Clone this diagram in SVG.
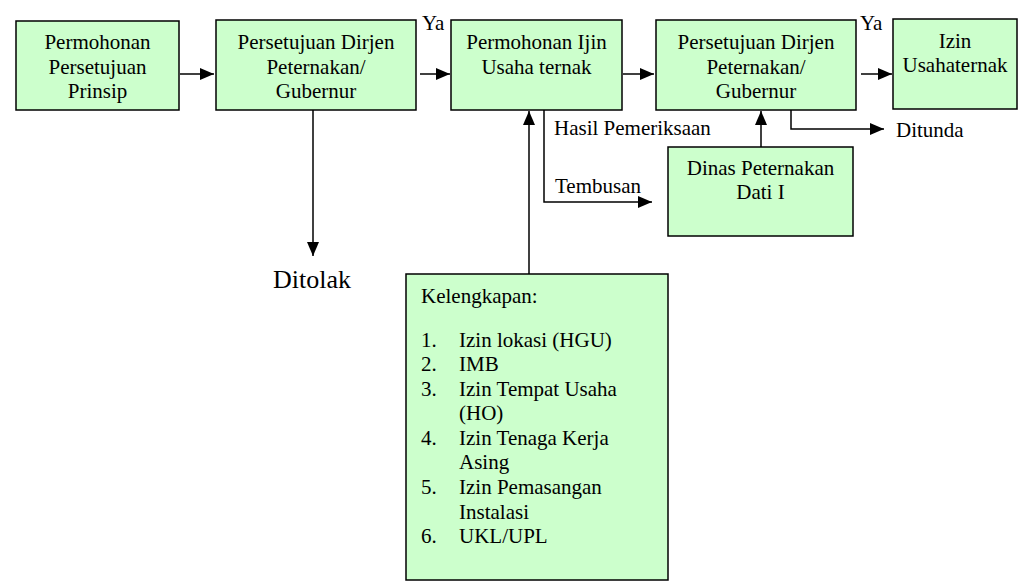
<svg xmlns="http://www.w3.org/2000/svg" width="1024" height="587" viewBox="0 0 1024 587">
<defs>
<marker id="ah" viewBox="0 0 14 12" refX="14" refY="6" markerWidth="14" markerHeight="12" markerUnits="userSpaceOnUse" orient="auto">
<path d="M0,0 L14,6 L0,12 z" fill="#000"/>
</marker>
<style>
.box{fill:#ccffcc;stroke:#000;stroke-width:1.5}
.t{font-family:"Liberation Serif","Times New Roman",serif;font-size:21px;fill:#000}
.big{font-size:26px}
.c{text-anchor:middle}
.ln{fill:none;stroke:#000;stroke-width:1.5}
</style>
</defs>
<rect width="1024" height="587" fill="#fff"/>
<g id="n1"><rect class="box" x="16" y="21" width="163" height="89"/>
<text class="t c" x="97.5" y="49">Permohonan</text><text class="t c" x="97.5" y="73.5">Persetujuan</text><text class="t c" x="97.5" y="98">Prinsip</text></g>
<g id="n2"><rect class="box" x="216" y="20" width="200" height="90"/>
<text class="t c" x="316" y="49">Persetujuan Dirjen</text><text class="t c" x="316" y="73.5">Peternakan/</text><text class="t c" x="316" y="98">Gubernur</text></g>
<g id="n3"><rect class="box" x="451" y="20" width="171" height="90"/>
<text class="t c" x="536.5" y="49">Permohonan Ijin</text><text class="t c" x="536.5" y="73.5">Usaha ternak</text></g>
<g id="n4"><rect class="box" x="656" y="20" width="200" height="90"/>
<text class="t c" x="756" y="49">Persetujuan Dirjen</text><text class="t c" x="756" y="73.5">Peternakan/</text><text class="t c" x="756" y="98">Gubernur</text></g>
<g id="n5"><rect class="box" x="893" y="19" width="124" height="90"/>
<text class="t c" x="955" y="48">Izin</text><text class="t c" x="955" y="72">Usahaternak</text></g>
<g id="n6"><rect class="box" x="668" y="147" width="185" height="89"/>
<text class="t c" x="760.5" y="175">Dinas Peternakan</text><text class="t c" x="760.5" y="199">Dati I</text></g>
<g id="n7"><rect class="box" x="406" y="274" width="262" height="306"/>
<text class="t" x="421" y="303">Kelengkapan:</text>
<text class="t" x="421" y="346.5">1.</text><text class="t" x="459" y="346.5">Izin lokasi (HGU)</text>
<text class="t" x="421" y="371">2.</text><text class="t" x="459" y="371">IMB</text>
<text class="t" x="421" y="395.6">3.</text><text class="t" x="459" y="395.6">Izin Tempat Usaha</text>
<text class="t" x="459" y="420.2">(HO)</text>
<text class="t" x="421" y="444.8">4.</text><text class="t" x="459" y="444.8">Izin Tenaga Kerja</text>
<text class="t" x="459" y="469.4">Asing</text>
<text class="t" x="421" y="494">5.</text><text class="t" x="459" y="494">Izin Pemasangan</text>
<text class="t" x="459" y="518.6">Instalasi</text>
<text class="t" x="421" y="543.2">6.</text><text class="t" x="459" y="543.2">UKL/UPL</text></g>
<g id="n8"><text class="t big" x="273" y="288">Ditolak</text></g>
<g id="connectors">
<line class="ln" x1="180" y1="74" x2="214" y2="74" marker-end="url(#ah)"/>
<line class="ln" x1="420" y1="74" x2="450" y2="74" marker-end="url(#ah)"/>
<line class="ln" x1="623" y1="74" x2="654" y2="74" marker-end="url(#ah)"/>
<line class="ln" x1="861" y1="74" x2="892" y2="74" marker-end="url(#ah)"/>
<line class="ln" x1="313" y1="110" x2="313" y2="256" marker-end="url(#ah)"/>
<line class="ln" x1="529" y1="274" x2="529" y2="111" marker-end="url(#ah)"/>
<polyline class="ln" points="544,110 544,202 652,202" marker-end="url(#ah)"/>
<line class="ln" x1="761" y1="147" x2="761" y2="111" marker-end="url(#ah)"/>
<polyline class="ln" points="791,110 791,129 884,129" marker-end="url(#ah)"/>
<text class="t" x="422" y="30">Ya</text>
<text class="t" x="860" y="30">Ya</text>
<text class="t" x="554" y="135">Hasil Pemeriksaan</text>
<text class="t" x="555" y="193">Tembusan</text>
<text class="t" x="896" y="137">Ditunda</text>
</g>
</svg>
